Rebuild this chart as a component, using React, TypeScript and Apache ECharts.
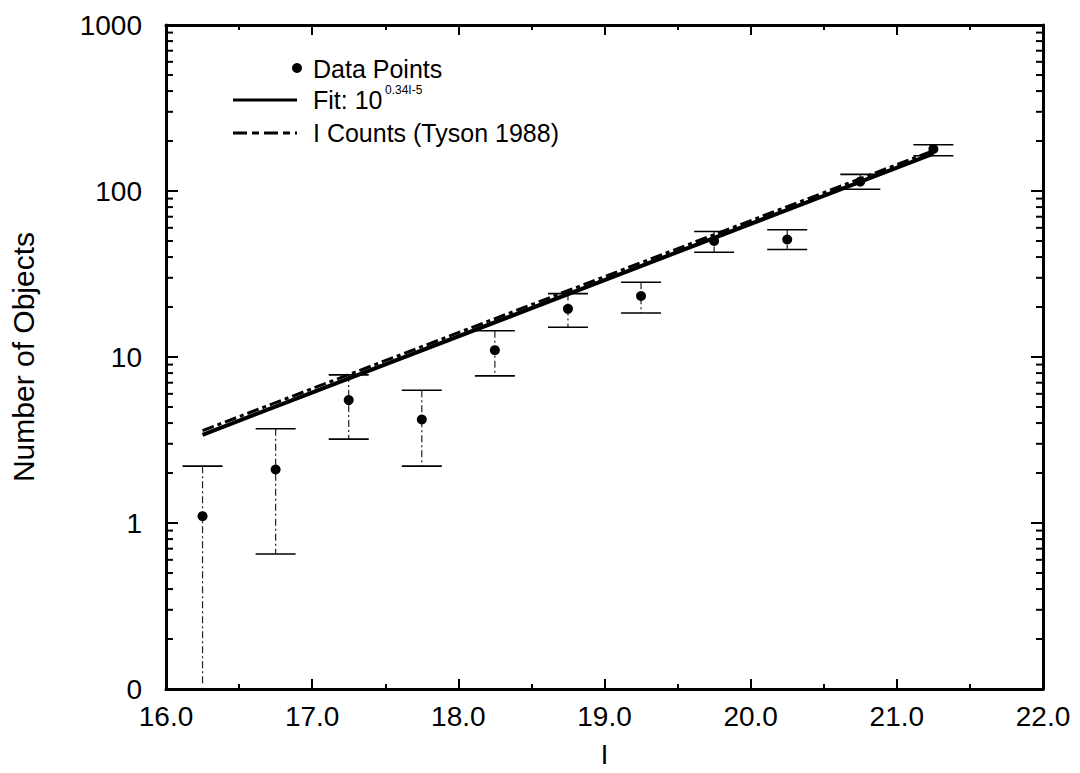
import React, { useEffect, useRef } from "react";
import * as echarts from "echarts";

// ---- data ----
const magnitudes = [16.25, 16.75, 17.25, 17.75, 18.25, 18.75, 19.25, 19.75, 20.25, 20.75, 21.25];
const counts = [1.1, 2.1, 5.5, 4.2, 11.0, 19.5, 23.3, 50, 51, 114, 179];
const errHigh = [2.2, 3.7, 7.8, 6.3, 14.4, 24.1, 28.2, 57, 58.4, 126, 190];
// null: the bar runs down to the bottom of the axis with no cap
const errLow: (number | null)[] = [null, 0.65, 3.2, 2.2, 7.7, 15.1, 18.4, 42.8, 44.4, 102.5, 163];

const fitLine = [
  [16.25, 3.4],
  [21.25, 168],
];
const tysonLine = [
  [16.25, 3.6],
  [21.25, 175],
];

const xTickLabels = ["16.0", "17.0", "18.0", "19.0", "20.0", "21.0", "22.0"];
const X_MIN = 16;
const X_MAX = 22;
const Y_MIN = 0.1;
const Y_MAX = 1000;
const yMinorTicks = [
  0.2, 0.3, 0.4, 0.5, 0.6, 0.7, 0.8, 0.9,
  2, 3, 4, 5, 6, 7, 8, 9,
  20, 30, 40, 50, 60, 70, 80, 90,
  200, 300, 400, 500, 600, 700, 800, 900,
];

const FONT = "Liberation Sans";

export default function App() {
  const ref = useRef<HTMLDivElement>(null);

  useEffect(() => {
    if (!ref.current) return;
    const chart = echarts.init(ref.current, undefined, { renderer: "svg" });

    const errData = magnitudes.map((x, i) => [
      x,
      errHigh[i],
      errLow[i] == null ? Y_MIN * 1.06 : (errLow[i] as number),
      errLow[i] == null ? 0 : 1,
    ]);

    const axisLineStyle = { color: "#000", width: 3 };
    const tickStyle = { color: "#000", width: 2 };

    const option: any = {
      animation: false,
      backgroundColor: "#fff",
      grid: { left: 163, right: 37, top: 25, bottom: 77, containLabel: false },
      xAxis: [
        {
          type: "value",
          min: X_MIN,
          max: X_MAX,
          interval: 1,
          position: "bottom",
          axisLine: { lineStyle: axisLineStyle },
          axisTick: { inside: true, length: 10, lineStyle: tickStyle },
          minorTick: { show: true, splitNumber: 2, length: 5, lineStyle: tickStyle },
          splitLine: { show: false },
          axisLabel: {
            formatter: (v: number) => xTickLabels[Math.round(v - X_MIN)] ?? v.toFixed(1),
            fontSize: 28,
            color: "#000",
            fontFamily: FONT,
            margin: 13,
          },
          name: "I",
          nameLocation: "middle",
          nameGap: 52,
          nameTextStyle: { fontSize: 27, color: "#000", fontFamily: FONT },
        },
        {
          type: "value",
          min: X_MIN,
          max: X_MAX,
          interval: 1,
          position: "top",
          axisLine: { lineStyle: axisLineStyle },
          axisTick: { inside: true, length: 10, lineStyle: tickStyle },
          minorTick: { show: true, splitNumber: 2, length: 5, lineStyle: tickStyle },
          splitLine: { show: false },
          axisLabel: { show: false },
        },
      ],
      yAxis: [
        {
          type: "log",
          logBase: 10,
          min: Y_MIN,
          max: Y_MAX,
          position: "left",
          axisLine: { lineStyle: axisLineStyle },
          axisTick: { inside: true, length: 12, lineStyle: tickStyle },
          splitLine: { show: false },
          axisLabel: {
            formatter: (v: number) => (v < 0.5 ? "0" : String(Math.round(v))),
            fontSize: 28,
            color: "#000",
            fontFamily: FONT,
            margin: 24,
          },
          name: "Number of Objects",
          nameLocation: "middle",
          nameRotate: 90,
          nameGap: 128,
          nameTextStyle: { fontSize: 30, color: "#000", fontFamily: FONT },
        },
        {
          type: "log",
          logBase: 10,
          min: Y_MIN,
          max: Y_MAX,
          position: "right",
          axisLine: { lineStyle: axisLineStyle },
          axisTick: { inside: true, length: 12, lineStyle: tickStyle },
          splitLine: { show: false },
          axisLabel: { show: false },
        },
      ],
      series: [
        {
          name: "errors",
          type: "custom",
          xAxisIndex: 0,
          yAxisIndex: 0,
          data: errData,
          z: 2,
          renderItem: (params: any, api: any) => {
            const x = api.value(0);
            const hi = api.value(1);
            const lo = api.value(2);
            const hasLowCap = api.value(3) === 1;
            const top = api.coord([x, hi]);
            const bot = api.coord([x, lo]);
            const half = 20;
            const children: any[] = [
              {
                type: "line",
                shape: { x1: top[0], y1: top[1], x2: bot[0], y2: bot[1] },
                style: { stroke: "#222", lineWidth: 1.2, lineDash: [7, 3, 2, 3] },
              },
              {
                type: "line",
                shape: { x1: top[0] - half, y1: top[1], x2: top[0] + half, y2: top[1] },
                style: { stroke: "#000", lineWidth: 1.6 },
              },
            ];
            if (hasLowCap) {
              children.push({
                type: "line",
                shape: { x1: bot[0] - half, y1: bot[1], x2: bot[0] + half, y2: bot[1] },
                style: { stroke: "#000", lineWidth: 1.6 },
              });
            }
            return { type: "group", children };
          },
        },
        {
          name: "Data Points",
          type: "scatter",
          xAxisIndex: 0,
          yAxisIndex: 0,
          data: magnitudes.map((x, i) => [x, counts[i]]),
          symbol: "circle",
          symbolSize: 10,
          itemStyle: { color: "#000", opacity: 1 },
          z: 4,
        },
        {
          name: "Fit",
          type: "line",
          xAxisIndex: 0,
          yAxisIndex: 0,
          data: fitLine,
          showSymbol: false,
          lineStyle: { color: "#000", width: 4 },
          z: 3,
        },
        {
          name: "I Counts (Tyson 1988)",
          type: "line",
          xAxisIndex: 0,
          yAxisIndex: 0,
          data: tysonLine,
          showSymbol: false,
          lineStyle: { color: "#000", width: 3, type: [12, 4, 4, 4] },
          z: 3,
        },
        {
          name: "yMinorTicks",
          type: "custom",
          xAxisIndex: 0,
          yAxisIndex: 0,
          data: yMinorTicks.map((v) => [X_MIN, v]),
          z: 5,
          renderItem: (params: any, api: any) => {
            const v = api.value(1);
            const l = api.coord([X_MIN, v]);
            const r = api.coord([X_MAX, v]);
            const len = 7;
            return {
              type: "group",
              children: [
                {
                  type: "line",
                  shape: { x1: l[0], y1: l[1], x2: l[0] + len, y2: l[1] },
                  style: { stroke: "#000", lineWidth: 2 },
                },
                {
                  type: "line",
                  shape: { x1: r[0], y1: r[1], x2: r[0] - len, y2: r[1] },
                  style: { stroke: "#000", lineWidth: 2 },
                },
              ],
            };
          },
        },
      ],
      graphic: [
        { type: "circle", shape: { cx: 297, cy: 68, r: 5 }, style: { fill: "#000" } },
        {
          type: "text",
          x: 313,
          y: 69,
          style: { text: "Data Points", font: `25px "${FONT}"`, fill: "#000", verticalAlign: "middle" },
        },
        {
          type: "line",
          shape: { x1: 233, y1: 100, x2: 297, y2: 100 },
          style: { stroke: "#000", lineWidth: 3 },
        },
        {
          type: "text",
          x: 313,
          y: 100,
          style: { text: "Fit: 10", font: `25px "${FONT}"`, fill: "#000", verticalAlign: "middle" },
        },
        {
          type: "text",
          x: 385,
          y: 90,
          style: { text: "0.34I-5", font: `12px "${FONT}"`, fill: "#000", verticalAlign: "middle" },
        },
        {
          type: "line",
          shape: { x1: 233, y1: 133, x2: 297, y2: 133 },
          style: { stroke: "#000", lineWidth: 3, lineDash: [14, 5, 7, 5] },
        },
        {
          type: "text",
          x: 313,
          y: 133,
          style: {
            text: "I Counts (Tyson 1988)",
            font: `25px "${FONT}"`,
            fill: "#000",
            verticalAlign: "middle",
          },
        },
      ],
    };

    chart.setOption(option);
    return () => chart.dispose();
  }, []);

  return (
    <div
      ref={ref}
      style={{ position: "absolute", left: 0, top: 0, width: 1080, height: 773, background: "#fff" }}
    />
  );
}
